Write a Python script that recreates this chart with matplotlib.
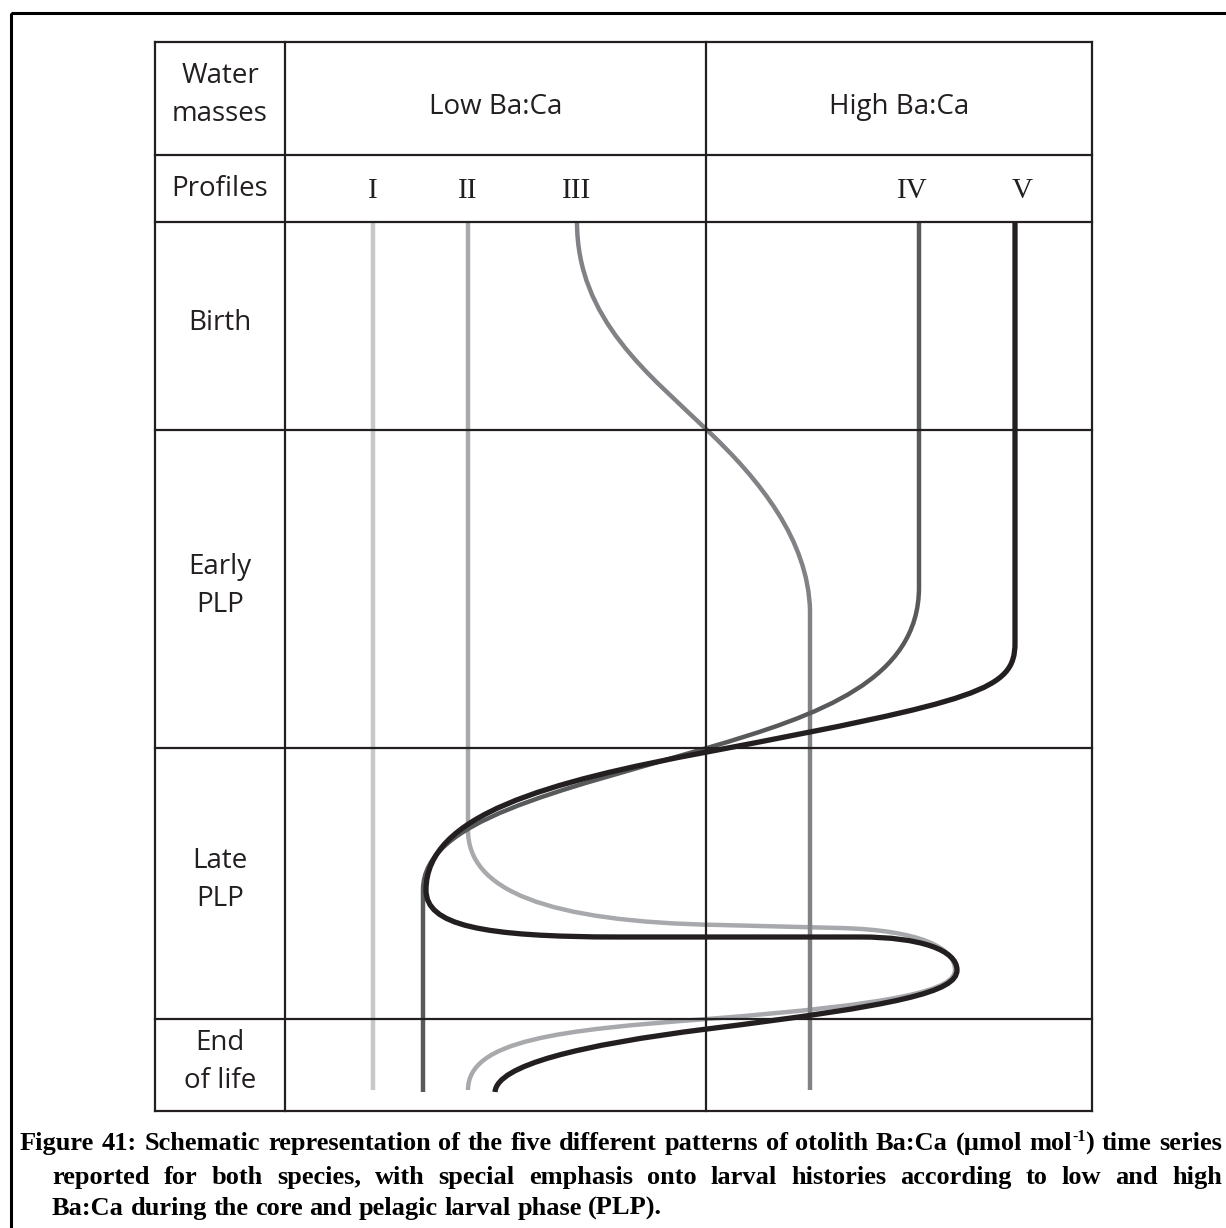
import matplotlib
matplotlib.use("Agg")
import matplotlib.pyplot as plt
from matplotlib.path import Path
from matplotlib.patches import PathPatch, Rectangle

# --- data -----------------------------------------------------------------
water_masses = ["Low Ba:Ca", "High Ba:Ca"]
profile_names = ["I", "II", "III", "IV", "V"]
stages = [["Birth"], ["Early", "PLP"], ["Late", "PLP"], ["End", "of life"]]

# schematic profiles (pixel space): M = start, L = line, C = cubic bezier
profile_I = [("M", 373, 222), ("L", 373, 1090)]
profile_II = [("M", 468, 222), ("L", 468, 830),
              ("C", 468, 890, 545, 922, 720, 925),
              ("L", 840, 928),
              ("C", 920, 930, 955, 948, 955, 970),
              ("C", 955, 990, 900, 1004, 707, 1019),
              ("C", 560, 1030, 468, 1040, 468, 1090)]
profile_III = [("M", 577, 222),
               ("C", 577, 320, 650, 375, 707, 430),
               ("C", 760, 480, 808, 540, 810, 610),
               ("L", 810, 1090)]
profile_IV = [("M", 919, 222), ("L", 919, 587),
              ("C", 919, 680, 820, 715, 707, 748),
              ("C", 557, 792, 423, 820, 423, 890),
              ("L", 423, 1092)]
profile_V = [("M", 1015, 222), ("L", 1015, 643),
             ("C", 1015, 690, 980, 700, 707, 752),
             ("C", 547, 782, 426, 815, 426, 890),
             ("C", 426, 925, 480, 937, 620, 937),
             ("L", 860, 937),
             ("C", 920, 937, 957, 950, 957, 970),
             ("C", 957, 992, 900, 1005, 707, 1029),
             ("C", 580, 1045, 497, 1065, 495, 1092)]
profiles = [profile_I, profile_II, profile_III, profile_IV, profile_V]

caption = [
    "Figure 41: Schematic representation of the five different patterns of otolith Ba:Ca (µmol mol^{-1}) time series",
    "reported for both species, with special emphasis onto larval histories according to low and high",
    "Ba:Ca during the core and pelagic larval phase (PLP).",
]

# --- layout ---------------------------------------------------------------
W, H = 1226, 1228
col_x = [155, 285, 706, 1092]           # table verticals
row_y = [42, 155, 222, 430, 748, 1019, 1111]  # table horizontals
label_x = [373, 468, 577, 912, 1022]   # roman numerals
colors = ["#c7c8ca", "#a7a9ac", "#808285", "#58595b", "#231f20"]
widths = [3.2, 3.2, 3.2, 3.2, 3.8]
ink = "#231f20"
sans = ["Open Sans", "DejaVu Sans"]
serif = ["Liberation Serif", "DejaVu Serif"]

fig = plt.figure(figsize=(W / 100, H / 100), dpi=100)
ax = fig.add_axes([0, 0, 1, 1])
ax.set_xlim(0, W)
ax.set_ylim(H, 0)
ax.axis("off")

# outer frame (runs off the right and bottom edges)
ax.add_patch(Rectangle((11, 13), 1300, 1300, fill=False, lw=2.2, ec="black"))

# table grid
for x in col_x:
    ax.plot([x, x], [row_y[0], row_y[-1]], color=ink, lw=1.6, solid_capstyle="projecting")
for y in row_y:
    ax.plot([col_x[0], col_x[-1]], [y, y], color=ink, lw=1.6, solid_capstyle="projecting")

# header texts
lab_cx = (col_x[0] + col_x[1]) / 2
fs = 20
ax.text(lab_cx, 76, "Water", ha="center", va="center", fontsize=fs, family=sans, color=ink)
ax.text(lab_cx, 114, "masses", ha="center", va="center", fontsize=fs, family=sans, color=ink)
ax.text(lab_cx, 189, "Profiles", ha="center", va="center", fontsize=fs, family=sans, color=ink)
for i, name in enumerate(water_masses):
    cx = (col_x[i + 1] + col_x[i + 2]) / 2
    ax.text(cx, 107, name, ha="center", va="center", fontsize=fs, family=sans, color=ink)
for x, name in zip(label_x, profile_names):
    ax.text(x, 191, name, ha="center", va="center", fontsize=21, family=serif, color=ink)

# stage labels, centred in their rows
for i, lines in enumerate(stages):
    cy = (row_y[i + 2] + row_y[i + 3]) / 2 - 3
    n = len(lines)
    for j, s in enumerate(lines):
        ax.text(lab_cx, cy + (j - (n - 1) / 2) * 38, s, ha="center", va="center",
                fontsize=fs, family=sans, color=ink)

# profiles
codes_of = {"M": [Path.MOVETO], "L": [Path.LINETO], "C": [Path.CURVE4] * 3}
for prof, c, lw in zip(profiles, colors, widths):
    verts, codes = [], []
    for seg in prof:
        pts = seg[1:]
        verts += [(pts[k], pts[k + 1]) for k in range(0, len(pts), 2)]
        codes += codes_of[seg[0]]
    ax.add_patch(PathPatch(Path(verts, codes), fill=False, ec=c, lw=lw, capstyle="butt"))


# caption, justified like the original
cap_fs = 19
cap_kw = dict(family=serif, weight="bold", color="black", va="baseline", ha="left")


def split_word(w):
    # "mol^{-1})" -> [("mol", False), ("-1", True), (")", False)]
    if "^{" not in w:
        return [(w, False)]
    pre, rest = w.split("^{")
    sup, post = rest.split("}")
    return [(p, s) for p, s in [(pre, False), (sup, True), (post, False)] if p]


def draw_line(line, x0, y, x1=None):
    words = [split_word(w) for w in line.split(" ")]
    objs = []
    for pieces in words:
        objs.append([ax.text(0, y - (9 if s else 0), p,
                             fontsize=cap_fs * (0.6 if s else 1), **cap_kw)
                     for p, s in pieces])
    fig.canvas.draw()
    r = fig.canvas.get_renderer()
    pw = [[t.get_window_extent(r).width for t in o] for o in objs]
    ww = [sum(p) for p in pw]
    space = ax.text(0, y, "a a", fontsize=cap_fs, **cap_kw)
    aa = ax.text(0, y, "aa", fontsize=cap_fs, **cap_kw)
    gap = space.get_window_extent(r).width - aa.get_window_extent(r).width
    space.remove()
    aa.remove()
    if x1 is not None:
        gap = (x1 - x0 - sum(ww)) / (len(words) - 1)
    x = x0
    for o, p, w in zip(objs, pw, ww):
        xx = x
        for t, wi in zip(o, p):
            t.set_x(xx)
            xx += wi
        x += w + gap


draw_line(caption[0], 20, 1150, 1222)
draw_line(caption[1], 52, 1184, 1222)
draw_line(caption[2], 52, 1215)

fig.savefig("out.png", dpi=100)
